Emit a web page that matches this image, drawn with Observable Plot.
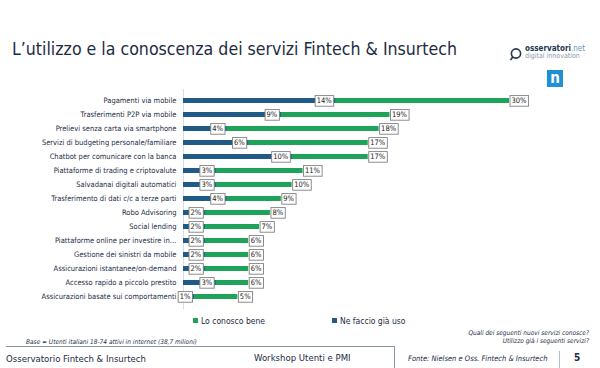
<!DOCTYPE html>
<html><head><meta charset="utf-8">
<script src="https://cdn.jsdelivr.net/npm/d3@7"></script>
<script src="https://cdn.jsdelivr.net/npm/@observablehq/plot@0.6"></script>
<style>
body{margin:0;background:#fff;width:600px;height:368px;overflow:hidden;position:relative;font-family:"DejaVu Sans Condensed","DejaVu Sans",sans-serif;color:#1d2b45}
.abs{position:absolute;white-space:nowrap}
#chart{position:absolute;left:0;top:89px}
.sq{display:inline-block;width:5px;height:5px;margin-right:3px;vertical-align:1px}
</style></head>
<body>
<div class="abs" style="left:12px;top:39px;font-size:17.6px;color:#1d2b45">L’utilizzo e la conoscenza dei servizi Fintech &amp; Insurtech</div>
<div class="abs" style="left:509px;top:46px;width:14px;height:14px"><svg width="14" height="14"><circle cx="7" cy="6.5" r="4.6" fill="none" stroke="#22364f" stroke-width="1.6"/><line x1="3.8" y1="10" x2="1.5" y2="13" stroke="#22364f" stroke-width="1.6"/></svg></div>
<div class="abs" style="left:525px;top:45px;font-size:8px;font-weight:bold;color:#22364f;line-height:8px">osservatori<span style="color:#6b93b8;font-weight:normal">.net</span></div>
<div class="abs" style="left:525px;top:53px;font-size:7px;color:#8a97a6;line-height:7px">digital innovation</div>
<div class="abs" style="left:547px;top:70px;width:16px;height:17px;background:#1f8fd6;color:#fff;font-size:15px;font-weight:bold;text-align:center;line-height:17px">n</div>
<div id="chart"></div>
<div class="abs" style="left:193px;top:316px;font-size:8.5px;color:#1d2b45"><span class="sq" style="background:#1fa35b"></span>Lo conosco bene</div>
<div class="abs" style="left:332px;top:316px;font-size:8.5px;color:#1d2b45"><span class="sq" style="background:#1f5b86"></span>Ne faccio già uso</div>
<div class="abs" style="left:26px;top:338px;font-size:6.5px;font-style:italic;color:#1d2b45">Base = Utenti italiani 18-74 attivi in internet (38,7 milioni)</div>
<div class="abs" style="right:11px;top:329px;font-size:6.5px;font-style:italic;color:#1d2b45;text-align:right;line-height:8px">Quali dei seguenti nuovi servizi conosce?<br>Utilizzo già i seguenti servizi?</div>
<div class="abs" style="left:6px;top:346px;width:388px;height:30px;border-top:1.5px solid #8796a6;border-right:1.5px solid #8796a6"></div>
<div class="abs" style="left:6px;top:353px;font-size:9.5px;color:#1d2b45">Osservatorio Fintech &amp; Insurtech</div>
<div class="abs" style="left:254px;top:352px;font-size:9.5px;color:#1d2b45">Workshop Utenti e PMI</div>
<div class="abs" style="left:408px;top:354px;font-size:7.5px;font-style:italic;color:#1d2b45">Fonte: Nielsen e Oss. Fintech &amp; Insurtech</div>
<div class="abs" style="left:559px;top:351px;width:0;height:17px;border-left:1px solid #b5bec8"></div>
<div class="abs" style="left:574px;top:352px;font-size:10px;font-weight:bold;color:#1d2b45">5</div>
<script>
const categories = [
  "Pagamenti via mobile",
  "Trasferimenti P2P via mobile",
  "Prelievi senza carta via smartphone",
  "Servizi di budgeting personale/familiare",
  "Chatbot per comunicare con la banca",
  "Piattaforme di trading e criptovalute",
  "Salvadanai digitali automatici",
  "Trasferimento di dati c/c a terze parti",
  "Robo Advisoring",
  "Social lending",
  "Piattaforme online per investire in…",
  "Gestione dei sinistri da mobile",
  "Assicurazioni istantanee/on-demand",
  "Accesso rapido a piccolo prestito",
  "Assicurazioni basate sui comportamenti"
];
const conoscoBene = [30, 19, 18, 17, 17, 11, 10, 9, 8, 7, 6, 6, 6, 6, 5];
const faccioUso   = [14, 9, 4, 6, 10, 3, 3, 4, 2, 2, 2, 2, 2, 3, 1];
const seriesNames = ["Lo conosco bene", "Ne faccio già uso"];
const colors = ["#1fa35b", "#1f5b86"];

const data = categories.map((c, i) => ({cat: c, know: conoscoBene[i], use: faccioUso[i]}));

const chart = Plot.plot({
  width: 600, height: 220,
  marginLeft: 183, marginRight: 91, marginTop: 0, marginBottom: 0,
  style: {fontFamily: '"DejaVu Sans Condensed","DejaVu Sans",sans-serif', fontSize: "7.5px", color: "#1d2b45", background: "transparent"},
  x: {domain: [0, 30], axis: null},
  y: {domain: categories, paddingInner: 0.62, paddingOuter: 0.31, label: null, tickSize: 0, tickPadding: 7},
  marks: [
    Plot.ruleX([0], {stroke: "#d8dde3"}),
    Plot.barX(data, {y: "cat", x: "know", fill: colors[0]}),
    Plot.barX(data, {y: "cat", x: "use", fill: colors[1]}),
    Plot.text(data, {y: "cat", x: "use", text: d => d.use + "%", textAnchor: "end", dx: -4, fill: "#222", fontSize: 7.5}),
    Plot.text(data, {y: "cat", x: "know", text: d => d.know + "%", textAnchor: "start", dx: 2, fill: "#222", fontSize: 7.5})
  ]
});
document.getElementById("chart").appendChild(chart);
chart.querySelectorAll('g[aria-label="text"] text').forEach(t => {
  const bb = t.getBBox();
  const r = document.createElementNS("http://www.w3.org/2000/svg", "rect");
  r.setAttribute("x", bb.x - 1.5);
  r.setAttribute("y", bb.y - 0.8);
  r.setAttribute("width", bb.width + 3);
  r.setAttribute("height", bb.height + 1.6);
  r.setAttribute("fill", "#fff");
  r.setAttribute("stroke", "#808080");
  r.setAttribute("stroke-width", "0.9");
  const tr = t.getAttribute("transform");
  if (tr) r.setAttribute("transform", tr);
  t.parentNode.insertBefore(r, t);
});
</script>
</body></html>
